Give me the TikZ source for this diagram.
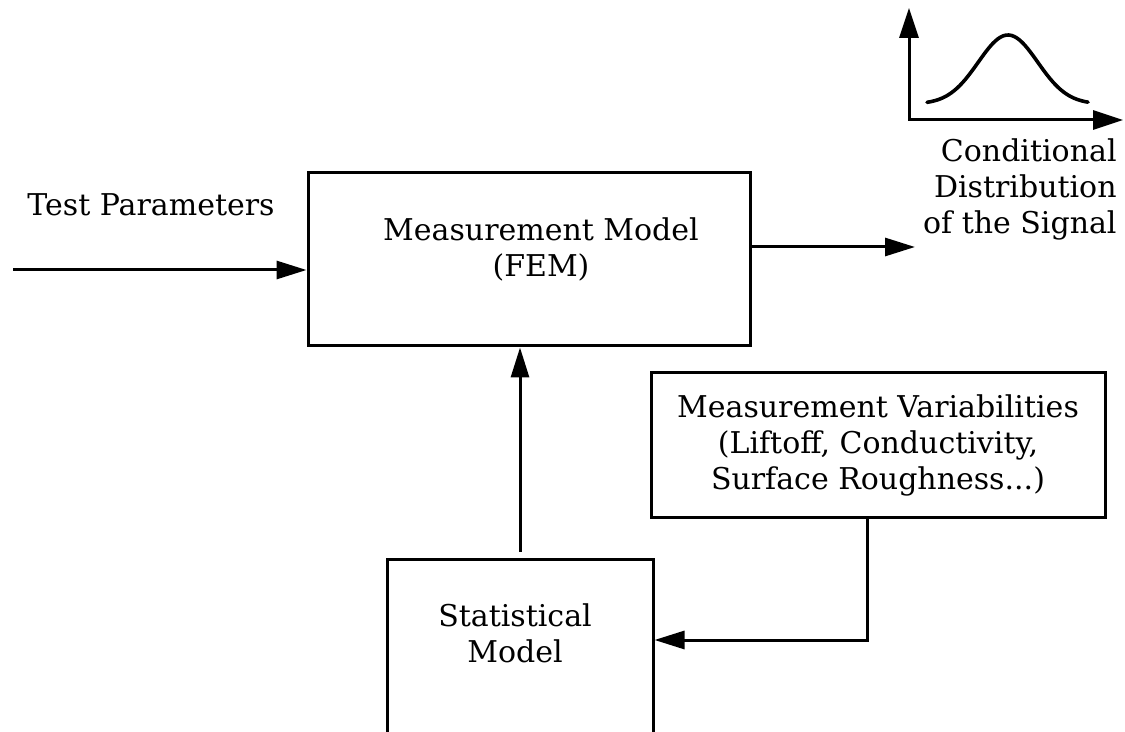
\documentclass[tikz,border=0pt]{standalone}
\usepackage{fontspec}
\setmainfont{DejaVu Serif}
\usetikzlibrary{arrows.meta}

\begin{document}
\begin{tikzpicture}[
  x=0.5pt,y=-0.5pt,
  font=\fontsize{15}{18}\selectfont,
  block/.style={draw,line width=1.5pt,inner sep=0pt},
  txt/.style={align=center,inner sep=0pt},
  to/.style={-{Triangle[length=15pt,width=9pt]},line width=1.5pt},
  every node/.style={align=center}]

  \path[use as bounding box,clip] (0,0) rectangle (1125,732);

  % Boxes
  \node[block,minimum width=221pt,minimum height=86.5pt] (mm) at (529,259.5) {};
  \node[txt] (mmtext) at (541,249) {Measurement Model\\(FEM)};

  \node[block,minimum width=227pt,minimum height=72.5pt] (mv) at (878,445.5)
    {Measurement Variabilities\\(Liftoff, Conductivity,\\Surface Roughness...)};

  \node[block,minimum width=133pt,minimum height=100pt] (sm) at (520,659.5) {};
  \node[txt] (smtext) at (515,633) {Statistical\\Model};

  % Labels
  \node[txt] (test) at (151,205) {Test Parameters};
  \node[txt,anchor=east,align=right] (dist) at (1117,189)
    {Conditional\\Distribution\\of the Signal};

  \coordinate (in) at (13,270);
  \coordinate (out) at (915,247);
  \coordinate (fb) at (867,640);
  \coordinate (org) at (909,120);
  \coordinate (ytip) at (909,8);
  \coordinate (xtip) at (1123,120);

  % Arrows
  \draw[to] (in) -- (in -| mm.west);
  \draw[to] (mm.east |- out) -- (out);
  \draw[to,shorten <=3pt] (sm.north) -- (sm.north |- mm.south);
  \draw[to] (fb |- mv.south) -- (fb) -- (fb -| sm.east);

  % Distribution sketch
  \draw[{Triangle[length=15pt,width=9.5pt]}-{Triangle[length=15pt,width=9.5pt]},line width=1.5pt]
    (ytip) -- (org) -- (xtip);
  \draw[line width=1.8pt,line cap=round] plot[domain=927:1088,samples=60]
    (\x,{104-69*exp(-((\x-1008)/42)^2)});

\end{tikzpicture}
\end{document}
